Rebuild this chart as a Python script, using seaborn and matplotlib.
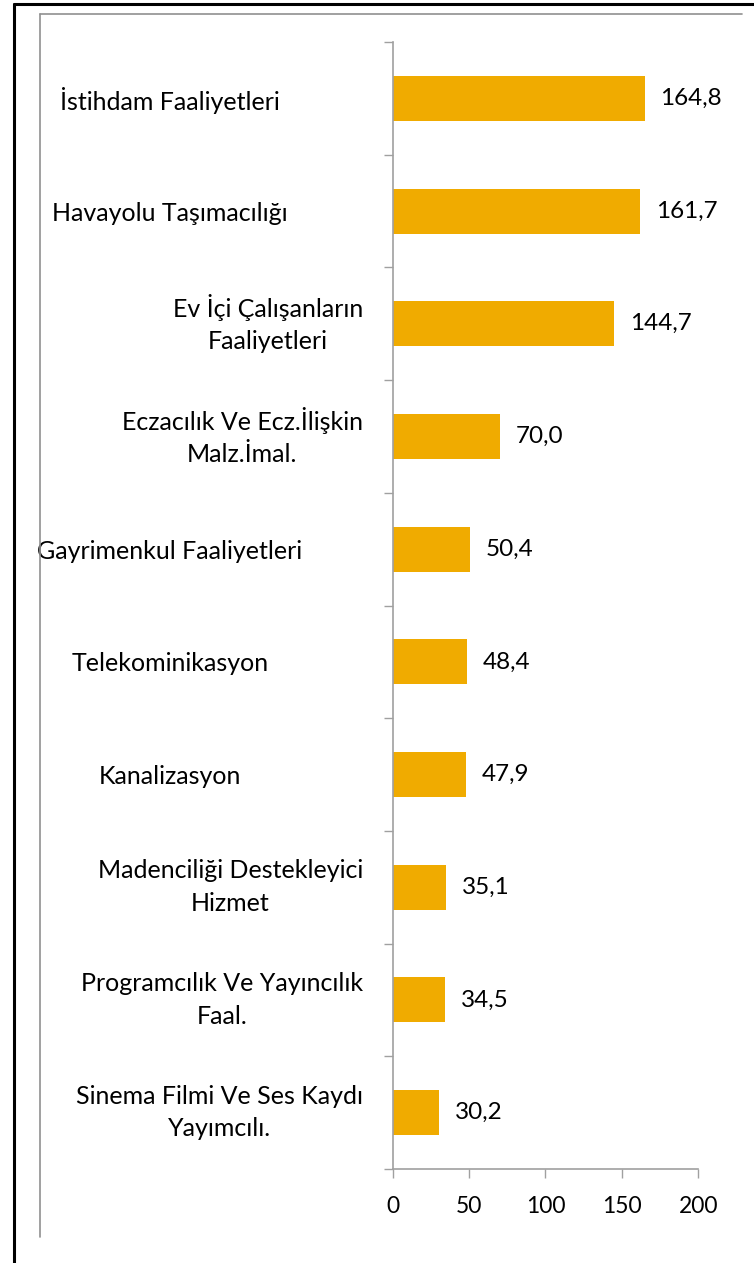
import matplotlib
matplotlib.use("Agg")
import matplotlib.pyplot as plt
import seaborn as sns
import pandas as pd
from matplotlib.lines import Line2D

categories = [
    "İstihdam Faaliyetleri",
    "Havayolu Taşımacılığı",
    "Ev İçi Çalışanların\nFaaliyetleri",
    "Eczacılık Ve Ecz.İlişkin\nMalz.İmal.",
    "Gayrimenkul Faaliyetleri",
    "Telekominikasyon",
    "Kanalizasyon",
    "Madenciliği Destekleyici\nHizmet",
    "Programcılık Ve Yayıncılık\nFaal.",
    "Sinema Filmi Ve Ses Kaydı\nYayımcılı.",
]
values = [164.8, 161.7, 144.7, 70.0, 50.4, 48.4, 47.9, 35.1, 34.5, 30.2]
x_ticks = [0, 50, 100, 150, 200]

df = pd.DataFrame({"cat": categories, "val": values})

sns.set_theme(style="white")
plt.rcParams["font.family"] = ["Lato", "DejaVu Sans"]

W, H = 754, 1263
fig = plt.figure(figsize=(W / 100, H / 100), dpi=100)
ax_left, ax_right = 392.7, 698.3
ax_top, ax_bot = 42.0, 1169.0
ax = fig.add_axes([ax_left / W, 1 - ax_bot / H, (ax_right - ax_left) / W, (ax_bot - ax_top) / H])

bar_color = "#F0AB00"
axis_color = "#A0A0A0"

sns.barplot(data=df, x="val", y="cat", orient="h", color=bar_color, width=0.4,
            saturation=1, ax=ax, edgecolor="none")

ax.set_xlim(0, 200)
ax.set_ylim(len(categories) - 0.5, -0.5)
ax.set_xlabel("")
ax.set_ylabel("")

# x axis
ax.set_xticks(x_ticks)
ax.set_xticklabels([str(t) for t in x_ticks])
ax.tick_params(axis="x", which="major", direction="out", length=6.5, width=1,
               color=axis_color, pad=13, labelsize=16.5, labelcolor="#000000", bottom=True)

# y axis: major ticks at category boundaries, labels on minor ticks at centres
n = len(categories)
ax.set_yticks([i - 0.5 for i in range(n + 1)])
ax.set_yticklabels([""] * (n + 1))
ax.set_yticks(list(range(n)), minor=True)
ax.set_yticklabels(categories, minor=True)
ax.tick_params(axis="y", which="major", direction="out", length=6.5, width=1,
               color=axis_color, left=True)
ax.tick_params(axis="y", which="minor", length=0, pad=21.5, labelsize=18,
               labelcolor="#000000", left=True)

px_per_axes = ax_right - ax_left
pad_px = 21.5 / 72 * 100
single_center_px = 170.0
for lab in ax.get_yticklabels(minor=True):
    txt = lab.get_text()
    lab.set_linespacing(1.5)
    if "\n" in txt:
        lab.set_horizontalalignment("right")
        lab.set_multialignment("center")
        lab.set_verticalalignment("center")
    else:
        lab.set_horizontalalignment("center")
        lab.set_x((single_center_px + pad_px - ax_left) / px_per_axes)

for s in ["top", "right"]:
    ax.spines[s].set_visible(False)
for s in ["left", "bottom"]:
    ax.spines[s].set_color(axis_color)
    ax.spines[s].set_linewidth(1.2)

ax.bar_label(ax.containers[0], labels=[f"{v:.1f}".replace(".", ",") for v in values],
             padding=11.5, fontsize=17.5, color="#000000")

# outer frame lines
def fline(x0, y0, x1, y1, color, lw):
    fig.add_artist(Line2D([x0 / W, x1 / W], [1 - y0 / H, 1 - y1 / H],
                          transform=fig.transFigure, color=color, linewidth=lw))

fline(14, 3.5, W, 3.5, "#000000", 2.2)
fline(14, 3.5, 14, H, "#000000", 2.2)
fline(40, 14, 742, 14, "#909090", 1.2)
fline(40, 14, 40, 1237, "#909090", 1.2)

fig.savefig("out.png", dpi=100)
